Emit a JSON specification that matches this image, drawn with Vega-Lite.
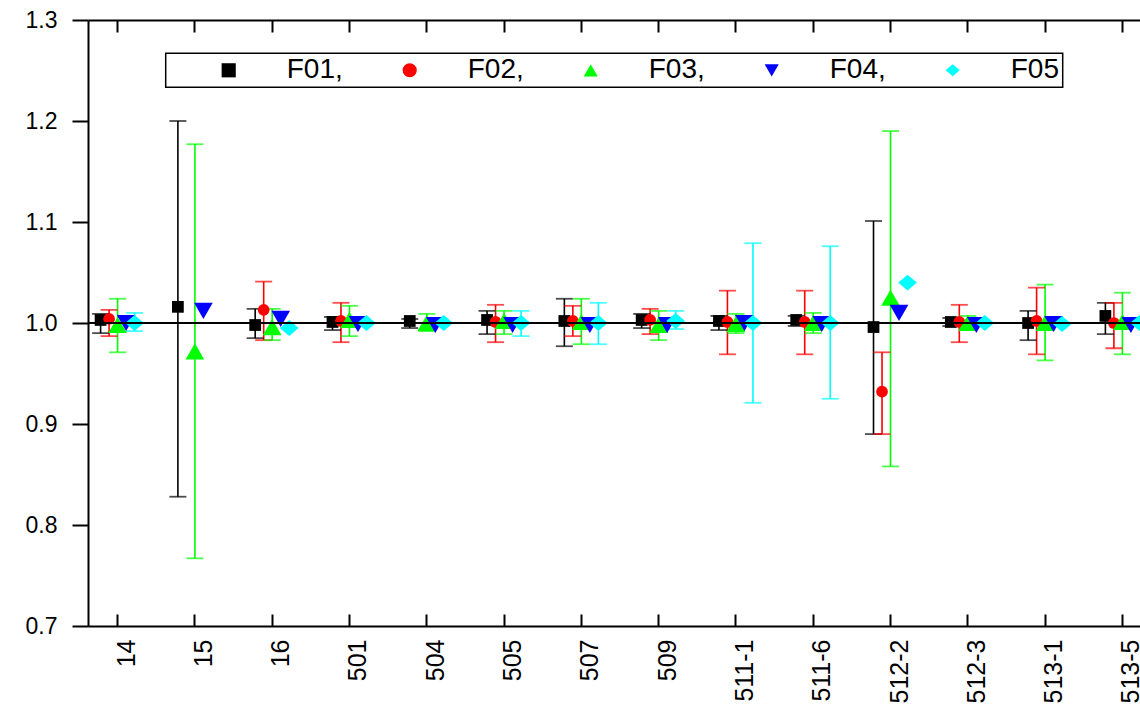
{
  "$schema": "https://vega.github.io/schema/vega-lite/v6.json",
  "width": 1052,
  "height": 606,
  "autosize": {"type": "none"},
  "padding": {"left": 88, "top": 20, "right": 0, "bottom": 82},
  "background": "white",
  "config": {
    "view": {"stroke": null},
    "font": "Liberation Sans",
    "axis": {"domainColor": "black", "tickColor": "black", "labelColor": "black", "domainWidth": 2, "tickWidth": 2, "grid": false, "labelFont": "Liberation Sans"},
    "legend": {"strokeWidth": 1.5}
  },
  "data": {"values": [
    {"cat": "14", "series": "F01", "v": 1.003, "lo": 0.990, "hi": 1.009},
    {"cat": "14", "series": "F02", "v": 1.004, "lo": 0.987, "hi": 1.013},
    {"cat": "14", "series": "F03", "v": 0.998, "lo": 0.971, "hi": 1.024},
    {"cat": "14", "series": "F04", "v": 1.000},
    {"cat": "14", "series": "F05", "v": 1.000, "lo": 0.992, "hi": 1.010},
    {"cat": "15", "series": "F01", "v": 1.016, "lo": 0.828, "hi": 1.200},
    {"cat": "15", "series": "F03", "v": 0.972, "lo": 0.767, "hi": 1.177},
    {"cat": "15", "series": "F04", "v": 1.012},
    {"cat": "16", "series": "F01", "v": 0.998, "lo": 0.985, "hi": 1.014},
    {"cat": "16", "series": "F02", "v": 1.013, "lo": 0.983, "hi": 1.041},
    {"cat": "16", "series": "F03", "v": 0.996, "lo": 0.983, "hi": 1.014},
    {"cat": "16", "series": "F04", "v": 1.004},
    {"cat": "16", "series": "F05", "v": 0.995},
    {"cat": "501", "series": "F01", "v": 1.001, "lo": 0.993, "hi": 1.006},
    {"cat": "501", "series": "F02", "v": 1.002, "lo": 0.981, "hi": 1.020},
    {"cat": "501", "series": "F03", "v": 1.003, "lo": 0.987, "hi": 1.017},
    {"cat": "501", "series": "F04", "v": 0.999},
    {"cat": "501", "series": "F05", "v": 1.000},
    {"cat": "504", "series": "F01", "v": 1.002, "lo": 0.995, "hi": 1.004},
    {"cat": "504", "series": "F03", "v": 1.000, "lo": 0.992, "hi": 1.009},
    {"cat": "504", "series": "F04", "v": 0.998},
    {"cat": "504", "series": "F05", "v": 1.000},
    {"cat": "505", "series": "F01", "v": 1.003, "lo": 0.989, "hi": 1.012},
    {"cat": "505", "series": "F02", "v": 1.001, "lo": 0.981, "hi": 1.018},
    {"cat": "505", "series": "F03", "v": 1.002, "lo": 0.989, "hi": 1.012},
    {"cat": "505", "series": "F04", "v": 0.998},
    {"cat": "505", "series": "F05", "v": 1.000, "lo": 0.987, "hi": 1.012},
    {"cat": "507", "series": "F01", "v": 1.002, "lo": 0.977, "hi": 1.024},
    {"cat": "507", "series": "F02", "v": 1.002, "lo": 0.987, "hi": 1.017},
    {"cat": "507", "series": "F03", "v": 1.001, "lo": 0.979, "hi": 1.024},
    {"cat": "507", "series": "F04", "v": 0.998},
    {"cat": "507", "series": "F05", "v": 1.000, "lo": 0.979, "hi": 1.020},
    {"cat": "509", "series": "F01", "v": 1.003, "lo": 0.995, "hi": 1.009},
    {"cat": "509", "series": "F02", "v": 1.003, "lo": 0.989, "hi": 1.014},
    {"cat": "509", "series": "F03", "v": 0.998, "lo": 0.983, "hi": 1.012},
    {"cat": "509", "series": "F04", "v": 0.998},
    {"cat": "509", "series": "F05", "v": 1.002, "lo": 0.994, "hi": 1.012},
    {"cat": "511-1", "series": "F01", "v": 1.002, "lo": 0.993, "hi": 1.007},
    {"cat": "511-1", "series": "F02", "v": 1.001, "lo": 0.969, "hi": 1.032},
    {"cat": "511-1", "series": "F03", "v": 0.999, "lo": 0.990, "hi": 1.009},
    {"cat": "511-1", "series": "F04", "v": 1.000},
    {"cat": "511-1", "series": "F05", "v": 1.000, "lo": 0.921, "hi": 1.079},
    {"cat": "511-6", "series": "F01", "v": 1.003, "lo": 0.997, "hi": 1.007},
    {"cat": "511-6", "series": "F02", "v": 1.001, "lo": 0.969, "hi": 1.032},
    {"cat": "511-6", "series": "F03", "v": 1.000, "lo": 0.990, "hi": 1.010},
    {"cat": "511-6", "series": "F04", "v": 0.999},
    {"cat": "511-6", "series": "F05", "v": 1.000, "lo": 0.925, "hi": 1.076},
    {"cat": "512-2", "series": "F01", "v": 0.996, "lo": 0.890, "hi": 1.101},
    {"cat": "512-2", "series": "F02", "v": 0.932, "lo": 0.890, "hi": 0.971},
    {"cat": "512-2", "series": "F03", "v": 1.025, "lo": 0.858, "hi": 1.190},
    {"cat": "512-2", "series": "F04", "v": 1.010},
    {"cat": "512-2", "series": "F05", "v": 1.040},
    {"cat": "512-3", "series": "F01", "v": 1.001, "lo": 0.997, "hi": 1.005},
    {"cat": "512-3", "series": "F02", "v": 1.001, "lo": 0.981, "hi": 1.018},
    {"cat": "512-3", "series": "F03", "v": 1.000, "lo": 0.995, "hi": 1.007},
    {"cat": "512-3", "series": "F04", "v": 0.998},
    {"cat": "512-3", "series": "F05", "v": 1.000},
    {"cat": "513-1", "series": "F01", "v": 1.000, "lo": 0.983, "hi": 1.012},
    {"cat": "513-1", "series": "F02", "v": 1.002, "lo": 0.969, "hi": 1.035},
    {"cat": "513-1", "series": "F03", "v": 1.000, "lo": 0.963, "hi": 1.038},
    {"cat": "513-1", "series": "F04", "v": 0.999},
    {"cat": "513-1", "series": "F05", "v": 0.999},
    {"cat": "513-5", "series": "F01", "v": 1.007, "lo": 0.989, "hi": 1.020},
    {"cat": "513-5", "series": "F02", "v": 1.000, "lo": 0.975, "hi": 1.020},
    {"cat": "513-5", "series": "F03", "v": 1.001, "lo": 0.969, "hi": 1.030},
    {"cat": "513-5", "series": "F04", "v": 0.998},
    {"cat": "513-5", "series": "F05", "v": 1.000}
  ]},
  "layer": [
    {
      "mark": {"type": "rule", "strokeWidth": 1.6},
      "encoding": {
        "x": {"field": "cat", "type": "nominal",
              "scale": {"domain": ["14","15","16","501","504","505","507","509","511-1","511-6","512-2","512-3","513-1","513-5"], "range": [0, 1064], "paddingInner": 0.45, "paddingOuter": 0.108},
              "axis": {"orient": "top", "labels": false, "tickSize": -12, "title": null}},
        "xOffset": {"field": "series", "type": "nominal", "scale": {"domain": ["F01","F02","F03","F04","F05"]}},
        "y": {"field": "lo", "type": "quantitative"},
        "y2": {"field": "hi"},
        "stroke": {"field": "series", "type": "nominal", "legend": null,
                  "scale": {"domain": ["F05","F04","F03","F02","F01"], "range": ["#00ffff","#0000ff","#00ff00","#ff0000","#000000"]}}
      }
    },
    {
      "mark": {"type": "tick", "size": 17, "thickness": 1.8},
      "encoding": {
        "x": {"field": "cat", "type": "nominal", "axis": null},
        "xOffset": {"field": "series", "type": "nominal"},
        "y": {"field": "lo", "type": "quantitative"},
        "fill": {"field": "series", "type": "nominal", "legend": null,
                 "scale": {"domain": ["F05","F04","F03","F02","F01"], "range": ["#00ffff","#0000ff","#00ff00","#ff0000","#000000"]}}
      }
    },
    {
      "mark": {"type": "tick", "size": 17, "thickness": 1.8},
      "encoding": {
        "x": {"field": "cat", "type": "nominal", "axis": null},
        "xOffset": {"field": "series", "type": "nominal"},
        "y": {"field": "hi", "type": "quantitative"},
        "fill": {"field": "series", "type": "nominal", "legend": null}
      }
    },
    {
      "mark": {"type": "point", "filled": true, "opacity": 1, "strokeWidth": 0},
      "encoding": {
        "x": {"field": "cat", "type": "nominal",
              "axis": {"orient": "bottom", "title": null, "tickSize": -12, "labelAngle": -90, "labelFontSize": 25, "labelPadding": 25, "labelOffset": 9}},
        "xOffset": {"field": "series", "type": "nominal"},
        "y": {"field": "v", "type": "quantitative",
              "scale": {"domain": [0.7, 1.3], "nice": false, "zero": false},
              "axis": {"values": [0.7, 0.8, 0.9, 1.0, 1.1, 1.2, 1.3], "format": ".1f", "tickSize": 16, "labelPadding": 15, "labelFontSize": 23, "title": null}},
        "color": {"field": "series", "type": "nominal",
                  "scale": {"domain": ["F01","F02","F03","F04","F05"], "range": ["#000000","#ff0000","#00ff00","#0000ff","#00ffff"]},
                  "legend": {"orient": "none", "legendX": 77.7, "legendY": 33.3, "direction": "horizontal", "columns": 5,
                             "title": " ", "titleOrient": "left", "titleFontSize": 1, "titlePadding": 46,
                             "labelFontSize": 28, "labelFont": "Liberation Sans", "labelColor": "black", "labelOffset": 44,
                             "columnPadding": 52, "gridAlign": "all", "padding": 3, "strokeColor": "black",
                             "symbolSize": 200, "symbolStrokeWidth": 0, "symbolOpacity": 1,
                             "labelExpr": "datum.label == 'F05' ? datum.label : datum.label + ','"}},
        "shape": {"field": "series", "type": "nominal",
                  "scale": {"domain": ["F01","F02","F03","F04","F05"], "range": ["square","circle","triangle-up","triangle-down","M-1,0L0,-0.85L1,0L0,0.85Z"]}},
        "size": {"condition": {"test": "datum.series == 'F01' || datum.series == 'F02'", "value": 138}, "value": 350}
      }
    },
    {
      "mark": {"type": "rule", "strokeWidth": 2, "color": "black"},
      "encoding": {"y": {"datum": 1}}
    }
  ],
  "resolve": {"axis": {"x": "independent"}}
}
